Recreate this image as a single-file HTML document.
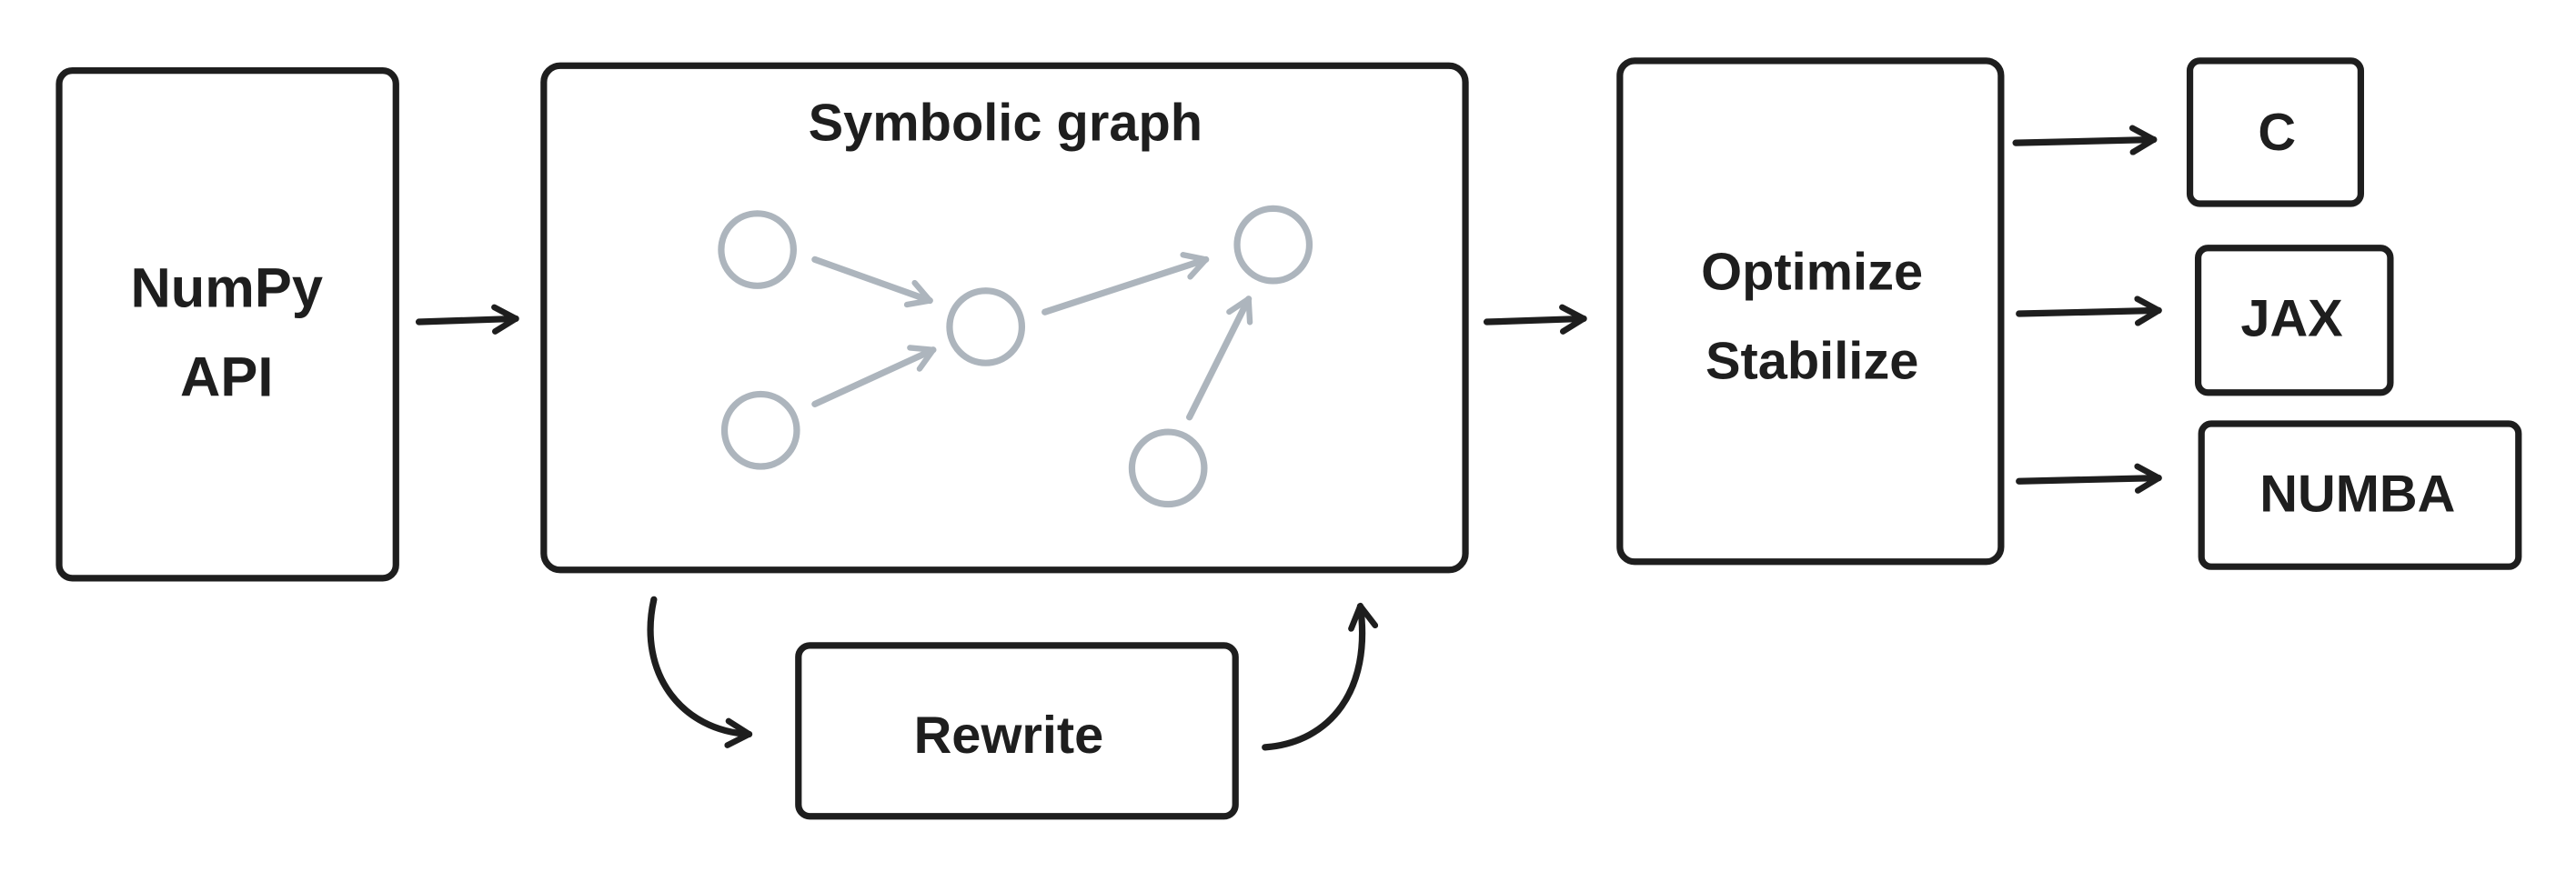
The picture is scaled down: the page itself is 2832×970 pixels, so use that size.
<!DOCTYPE html>
<html><head><style>
html,body{margin:0;padding:0;background:#fff;}
svg{display:block;}
text{font-family:"Liberation Sans",sans-serif;font-weight:bold;fill:#1e1e1e;text-anchor:middle;dominant-baseline:middle;}
</style></head><body>
<svg width="2832" height="970" viewBox="0 0 1568 537" preserveAspectRatio="none" xmlns="http://www.w3.org/2000/svg">
<defs>
<marker id="a" viewBox="0 0 10 10" refX="8" refY="5" markerWidth="4.6" markerHeight="4.6" orient="auto"><path d="M1,1 L8,5 L1,9" fill="none" stroke="#1e1e1e" stroke-width="2" stroke-linecap="round" stroke-linejoin="round"/></marker>
<marker id="g" viewBox="0 0 10 10" refX="8" refY="5" markerWidth="4.4" markerHeight="4.4" orient="auto"><path d="M1,1 L8,5 L1,9" fill="none" stroke="#adb5bd" stroke-width="2" stroke-linecap="round" stroke-linejoin="round"/></marker>
</defs>
<g fill="none" stroke="#1e1e1e" stroke-width="4" stroke-linecap="round">
<rect x="36" y="43" width="205" height="309" rx="8"/>
<rect x="331" y="40" width="561" height="307" rx="10"/>
<rect x="986" y="37" width="232" height="305" rx="9"/>
<rect x="1333" y="37" width="104" height="87" rx="6"/>
<rect x="1338" y="151" width="117" height="88" rx="6"/>
<rect x="1340" y="258" width="193" height="87" rx="6"/>
<rect x="486" y="393" width="266" height="104" rx="7"/>
<path d="M255,196 L314,194" marker-end="url(#a)"/>
<path d="M905,196 L964,194" marker-end="url(#a)"/>
<path d="M1227,87 L1311,85" marker-end="url(#a)"/>
<path d="M1229,191 L1314,189" marker-end="url(#a)"/>
<path d="M1229,293 L1314,291" marker-end="url(#a)"/>
<path d="M398,365 C388,410 415,445 456,447" marker-end="url(#a)"/>
<path d="M770,455 C810,452 835,420 828,369" marker-end="url(#a)"/>
</g>
<g fill="none" stroke="#adb5bd" stroke-width="4" stroke-linecap="round">
<circle cx="461" cy="152" r="22"/>
<circle cx="463" cy="262" r="22"/>
<circle cx="600" cy="199" r="22"/>
<circle cx="775" cy="149" r="22"/>
<circle cx="711" cy="285" r="22"/>
<path d="M496,158 L566,183" marker-end="url(#g)"/>
<path d="M496,246 L568,213" marker-end="url(#g)"/>
<path d="M636,190 L734,158" marker-end="url(#g)"/>
<path d="M724,254 L760,182" marker-end="url(#g)"/>
</g>
<text x="138" y="178" font-size="34">NumPy</text>
<text x="138" y="232" font-size="34">API</text>
<text x="612" y="77" font-size="32">Symbolic graph</text>
<text x="1103" y="168" font-size="32">Optimize</text>
<text x="1103" y="222" font-size="32">Stabilize</text>
<text x="1386" y="83" font-size="32">C</text>
<text x="1395" y="196" font-size="32">JAX</text>
<text x="1435" y="303" font-size="32">NUMBA</text>
<text x="614" y="450" font-size="32">Rewrite</text>
</svg>
</body></html>
